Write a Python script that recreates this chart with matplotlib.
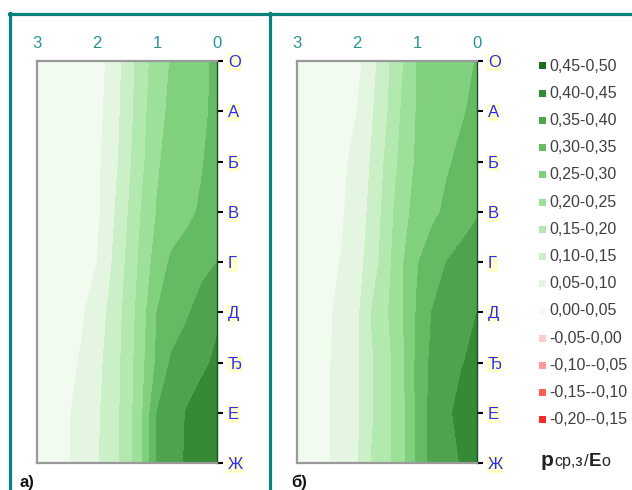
import matplotlib
matplotlib.use('Agg')
import matplotlib.pyplot as plt
import numpy as np
from matplotlib.lines import Line2D
from matplotlib.patches import Rectangle

plt.rcParams['font.family'] = ['Liberation Sans', 'DejaVu Sans']

# ---- data ----
distance = [0.0, 0.25, 0.5, 0.75, 1.0, 1.25, 1.5, 1.75, 2.0, 2.25, 2.5, 2.75, 3.0]
rows = ['О', 'А', 'Б', 'В', 'Г', 'Д', 'Ђ', 'Е', 'Ж']
x_ticks = [3, 2, 1, 0]
levels = [-0.20, -0.15, -0.10, -0.05, 0.00, 0.05, 0.10, 0.15, 0.20, 0.25, 0.30, 0.35, 0.40, 0.45, 0.50]
level_labels = ['0,45-0,50', '0,40-0,45', '0,35-0,40', '0,30-0,35', '0,25-0,30', '0,20-0,25',
                '0,15-0,20', '0,10-0,15', '0,05-0,10', '0,00-0,05', '-0,05-0,00', '-0,10--0,05',
                '-0,15--0,10', '-0,20--0,15']
legend_title = ['р', 'ср,з', '/', 'E', 'о']

z_a = [
    [0.310, 0.289, 0.272, 0.255, 0.223, 0.178, 0.120, 0.065, 0.030, 0.025, 0.02, 0.02, 0.02],
    [0.310, 0.292, 0.277, 0.261, 0.234, 0.183, 0.125, 0.070, 0.035, 0.030, 0.025, 0.02, 0.02],
    [0.320, 0.297, 0.281, 0.265, 0.245, 0.189, 0.133, 0.076, 0.040, 0.030, 0.025, 0.02, 0.02],
    [0.330, 0.307, 0.288, 0.270, 0.252, 0.204, 0.145, 0.089, 0.040, 0.030, 0.025, 0.02, 0.02],
    [0.350, 0.337, 0.323, 0.309, 0.272, 0.215, 0.157, 0.100, 0.050, 0.035, 0.030, 0.025, 0.02],
    [0.390, 0.368, 0.345, 0.323, 0.300, 0.228, 0.166, 0.115, 0.073, 0.045, 0.035, 0.030, 0.025],
    [0.410, 0.389, 0.373, 0.358, 0.309, 0.236, 0.170, 0.122, 0.085, 0.054, 0.040, 0.030, 0.025],
    [0.445, 0.425, 0.403, 0.377, 0.350, 0.244, 0.172, 0.126, 0.092, 0.064, 0.045, 0.035, 0.025],
    [0.445, 0.425, 0.406, 0.380, 0.353, 0.245, 0.175, 0.127, 0.095, 0.068, 0.045, 0.035, 0.025],
]
z_b = [
    [0.302, 0.289, 0.276, 0.263, 0.250, 0.193, 0.139, 0.081, 0.035, 0.030, 0.025, 0.02, 0.02],
    [0.310, 0.296, 0.282, 0.267, 0.253, 0.205, 0.146, 0.095, 0.050, 0.040, 0.035, 0.030, 0.025],
    [0.325, 0.310, 0.295, 0.276, 0.257, 0.216, 0.161, 0.105, 0.065, 0.040, 0.035, 0.030, 0.025],
    [0.345, 0.327, 0.309, 0.289, 0.266, 0.233, 0.173, 0.113, 0.074, 0.045, 0.035, 0.030, 0.025],
    [0.380, 0.366, 0.351, 0.325, 0.296, 0.243, 0.182, 0.122, 0.082, 0.052, 0.040, 0.030, 0.025],
    [0.400, 0.384, 0.368, 0.351, 0.304, 0.244, 0.195, 0.153, 0.088, 0.058, 0.045, 0.035, 0.025],
    [0.410, 0.398, 0.379, 0.361, 0.310, 0.238, 0.183, 0.145, 0.092, 0.064, 0.045, 0.035, 0.025],
    [0.440, 0.415, 0.391, 0.367, 0.310, 0.233, 0.185, 0.145, 0.092, 0.066, 0.045, 0.035, 0.025],
    [0.420, 0.403, 0.385, 0.365, 0.310, 0.233, 0.185, 0.153, 0.093, 0.068, 0.045, 0.035, 0.025],
]

colors = ['#ff2a2a', '#ff5c5c', '#ff9a9a', '#ffcccc',
          '#f1fbf0', '#e4f6e1', '#cbefc6', '#b3e8ae', '#9ce09a',
          '#80d07e', '#65ba64', '#4ea34e', '#358a35', '#1f6e1f']

W, H = 632, 490
fig = plt.figure(figsize=(W / 100, H / 100), dpi=100)

def fx(px):
    return px / W

def fy(py):
    return 1 - py / H

panels = [(z_a, 37, 'а)', 20), (z_b, 297, 'б)', 291)]
for z, left_px, tag, tag_px in panels:
    ax = fig.add_axes([fx(left_px), fy(463), 180 / W, 402 / H])
    ax.contourf(distance, np.arange(len(rows)), np.array(z), levels=levels, colors=colors)
    ax.set_xlim(3, 0)
    ax.set_ylim(len(rows) - 1, 0)
    ax.xaxis.tick_top()
    ax.set_xticks(x_ticks)
    ax.set_xticklabels([str(t) for t in x_ticks])
    ax.tick_params(axis='x', length=0, pad=7, labelsize=12, labelcolor='#2a9494')
    ax.yaxis.tick_right()
    ax.set_yticks(np.arange(len(rows)))
    ax.set_yticklabels(rows)
    ax.tick_params(axis='y', length=4, width=1.5, color='black', pad=4,
                   labelsize=12, labelcolor='#2b2bff')
    for t in ax.get_yticklabels():
        t.set_bbox(dict(facecolor='#ffffcc', edgecolor='none', pad=0.6))
    for s in ['left', 'top', 'bottom']:
        ax.spines[s].set_color('#9a9a9a')
        ax.spines[s].set_linewidth(1.6)
    ax.spines['right'].set_color('#1e4d1e')
    ax.spines['right'].set_linewidth(1.0)
    fig.text(fx(tag_px), fy(482), tag, fontsize=12, fontweight='bold', color='#111111',
             ha='left', va='center')

# frame lines
teal = '#0b817c'
fig.add_artist(Line2D([fx(9), 1], [fy(14.5), fy(14.5)], transform=fig.transFigure, color=teal, lw=2.3))
fig.add_artist(Line2D([fx(10.5), fx(10.5)], [fy(13), 0], transform=fig.transFigure, color=teal, lw=2.3))
fig.add_artist(Line2D([fx(269.5), fx(269.5)], [fy(13), 0], transform=fig.transFigure, color=teal, lw=2.3))

# legend
leg_colors = colors[::-1]
for i, (lab, c) in enumerate(zip(level_labels, leg_colors)):
    yc = 66 + 27.2 * i
    fig.add_artist(Rectangle((fx(539), fy(yc + 3.5)), 7 / W, 7 / H, transform=fig.transFigure,
                             facecolor=c, edgecolor='none'))
    fig.text(fx(549), fy(yc), lab, fontsize=11.5, color='#404040', ha='left', va='center')

# legend title (pieces placed one after another)
styles = [(15, 'bold'), (11.5, 'normal'), (12, 'normal'), (13.5, 'bold'), (11.5, 'normal')]
renderer = fig.canvas.get_renderer()
x_px = 541.0
for piece, (fs, fw) in zip(legend_title, styles):
    t = fig.text(fx(x_px), fy(466), piece, fontsize=fs, fontweight=fw, color='#222222',
                 ha='left', va='baseline')
    bb = t.get_window_extent(renderer=renderer)
    x_px = bb.x1 + 0.5

fig.savefig('out.png', dpi=100)
